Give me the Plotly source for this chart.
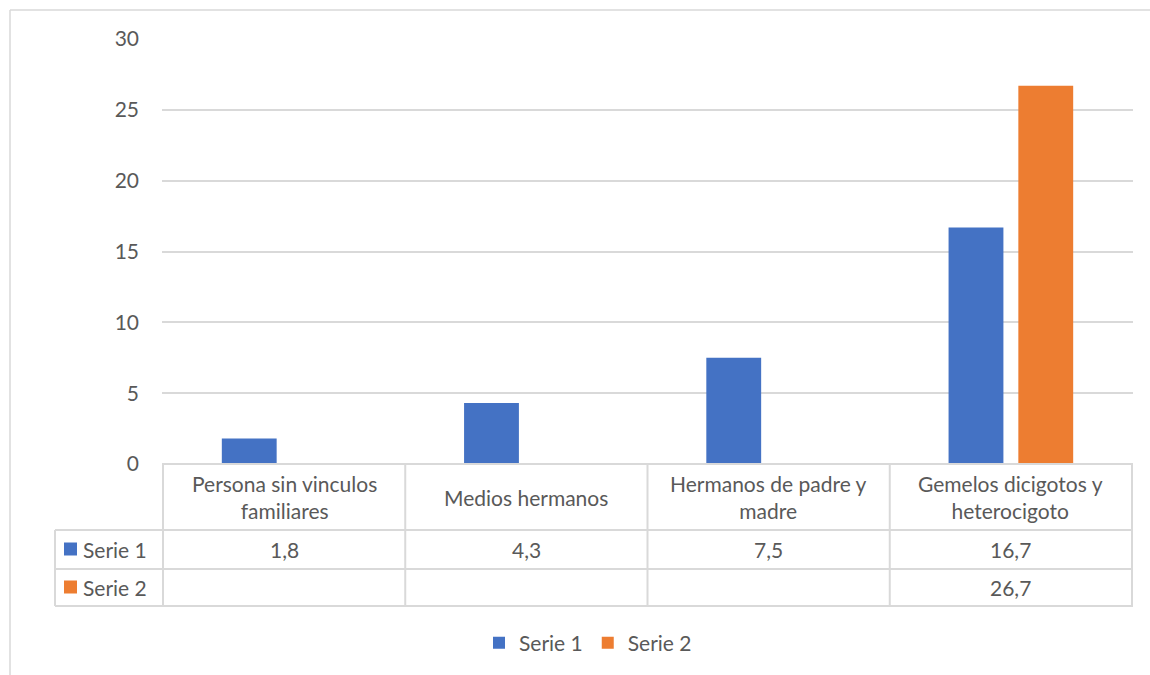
import plotly.graph_objects as go

categories = ["Persona sin vinculos familiares", "Medios hermanos",
              "Hermanos de padre y madre", "Gemelos dicigotos y heterocigoto"]
header_labels = ["Persona sin vinculos<br>familiares", "Medios hermanos",
                 "Hermanos de padre y<br>madre", "Gemelos dicigotos y<br>heterocigoto"]
series_names = ["Serie 1", "Serie 2"]
serie1 = [1.8, 4.3, 7.5, 16.7]
serie2 = [None, None, None, 26.7]
y_ticks = [0, 5, 10, 15, 20, 25, 30]

colors = ["#4472C4", "#ED7D31"]
FONT = "Lato"
FS = 21
TXT = "#595959"
GRID = "#D9D9D9"

W, H = 1150, 675
L, R, T, B = 162, 1133, 39, 464  # plot area pixels


def py(p):
    return (B - p) / (B - T)


def px(p):
    return (p - L) / (R - L)


fig = go.Figure()
for name, vals, c in zip(series_names, [serie1, serie2], colors):
    fig.add_trace(go.Bar(x=categories, y=vals, name=name, marker=dict(color=c, line=dict(width=0))))

shapes = []
annotations = []
line = dict(color=GRID, width=2)

# outer chart border (top and left visible)
shapes.append(dict(type="line", xref="paper", yref="paper", x0=px(10), x1=px(1160), y0=py(10), y1=py(10),
                   line=dict(color=GRID, width=1.5)))
shapes.append(dict(type="line", xref="paper", yref="paper", x0=px(10), x1=px(10), y0=py(10), y1=py(690),
                   line=dict(color=GRID, width=1.5)))

# table horizontal lines
shapes.append(dict(type="line", xref="paper", yref="paper", x0=0, x1=1, y0=0, y1=0, line=line))
for yy in [530, 569, 606]:
    shapes.append(dict(type="line", xref="paper", yref="paper", x0=px(55), x1=1, y0=py(yy), y1=py(yy), line=line))
# table vertical lines
shapes.append(dict(type="line", xref="paper", yref="paper", x0=px(55), x1=px(55), y0=py(530), y1=py(606), line=line))
n = len(categories)
for i in range(n + 1):
    shapes.append(dict(type="line", xref="x", yref="paper", x0=i - 0.5, x1=i - 0.5, y0=0, y1=py(606), line=line))

# header labels
for i, lab in enumerate(header_labels):
    annotations.append(dict(x=i, xref="x", y=py(497), yref="paper", text=lab, showarrow=False,
                            font=dict(family=FONT, size=FS, color=TXT), align="center",
                            xanchor="center", yanchor="middle"))
# row labels
row_y = [549, 587]
for name, c, ry in zip(series_names, colors, row_y):
    shapes.append(dict(type="rect", xref="paper", yref="paper", x0=px(64), x1=px(77), y0=py(ry - 6.5),
                       y1=py(ry + 6.5), fillcolor=c, line=dict(width=0)))
    annotations.append(dict(x=px(81), xref="paper", y=py(ry), yref="paper", text=name, showarrow=False,
                            font=dict(family=FONT, size=FS, color=TXT), xanchor="left", yanchor="middle"))
# values
for vals, ry in zip([serie1, serie2], row_y):
    for i, v in enumerate(vals):
        if v is None:
            continue
        annotations.append(dict(x=i, xref="x", y=py(ry), yref="paper", text=f"{v:.1f}".replace(".", ","),
                                showarrow=False, font=dict(family=FONT, size=FS, color=TXT),
                                xanchor="center", yanchor="middle"))

fig.update_layout(
    width=W, height=H,
    margin=dict(l=L, r=W - R, t=T, b=H - B, pad=0),
    paper_bgcolor="white", plot_bgcolor="white",
    barmode="group", bargap=0.424, bargroupgap=0.214,
    font=dict(family=FONT, size=FS, color=TXT),
    xaxis=dict(showticklabels=False, showgrid=False, zeroline=False, showline=False, ticks=""),
    yaxis=dict(range=[0, 30], tickvals=y_ticks, showgrid=True, gridcolor=GRID, gridwidth=1.5,
               zeroline=False, showline=False, ticks="", ticklabelstandoff=22,
               tickfont=dict(family=FONT, size=FS, color=TXT)),
    legend=dict(orientation="h", x=px(588), xanchor="center", y=py(643), yanchor="middle",
                font=dict(family=FONT, size=FS, color=TXT), itemclick=False, itemwidth=30,
                tracegroupgap=0),
    shapes=shapes, annotations=annotations,
)

fig.write_html("out.html")
